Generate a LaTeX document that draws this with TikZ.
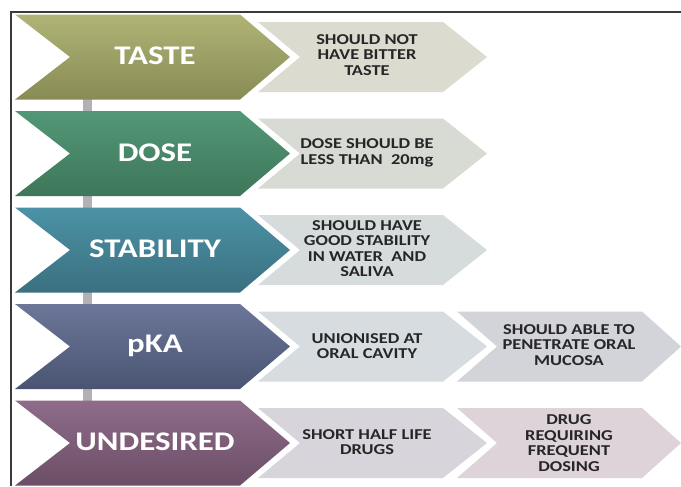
\documentclass[tikz,border=0pt]{standalone}
\usepackage{fontspec}
\usepackage{tikz}
\usetikzlibrary{backgrounds}
\newfontfamily\chevfont[FakeStretch=1.22]{Carlito}

\definecolor{framegray}{RGB}{58,58,58}
\definecolor{bargray}{RGB}{180,176,182}
\definecolor{notetext}{RGB}{38,38,38}

\tikzset{
  bigtext/.style={text=white,font=\chevfont\bfseries\fontsize{20.2}{22}\selectfont,inner sep=0.75pt},
  smalltext/.style={text=notetext,font=\chevfont\bfseries\fontsize{11.3}{11.6}\selectfont,align=center,inner sep=0.75pt},
  bar/.style={draw=bargray,line width=6.75pt}
}

\begin{document}
\begin{tikzpicture}[x=0.75pt,y=0.75pt,yscale=-1,xscale=1]
\useasboundingbox (0,0) rectangle (681,486);

%Bar between the big chevrons
\coordinate (tastebar) at (87,57);
\coordinate (dosebar) at (87,153.5);
\coordinate (stabbar) at (87,250);
\coordinate (pkabar) at (87,346.5);
\coordinate (undbar) at (87,443);
\draw[bar] (tastebar) -- (dosebar);
\draw[bar] (dosebar) -- (stabbar);
\draw[bar] (stabbar) -- (pkabar);
\draw[bar] (pkabar) -- (undbar);

%Shape: Chevron TASTE
\shade[top color={rgb,255:red,176;green,180;blue,118},bottom color={rgb,255:red,136;green,139;blue,84}]
  (15,14.5) -- (240,14.5) -- (290,57) -- (240,99.5) -- (15,99.5) -- (70,57) -- cycle ;
%Shape: Chevron DOSE
\shade[top color={rgb,255:red,82;green,152;blue,118},bottom color={rgb,255:red,62;green,118;blue,90}]
  (15,111) -- (240,111) -- (290,153.5) -- (240,196) -- (15,196) -- (70,153.5) -- cycle ;
%Shape: Chevron STABILITY
\shade[top color={rgb,255:red,76;green,146;blue,166},bottom color={rgb,255:red,58;green,112;blue,128}]
  (15,207.5) -- (240,207.5) -- (290,250) -- (240,292.5) -- (15,292.5) -- (70,250) -- cycle ;
%Shape: Chevron pKA
\shade[top color={rgb,255:red,108;green,118;blue,152},bottom color={rgb,255:red,74;green,84;blue,114}]
  (15,304) -- (240,304) -- (290,346.5) -- (240,389) -- (15,389) -- (70,346.5) -- cycle ;
%Shape: Chevron UNDESIRED
\shade[top color={rgb,255:red,142;green,108;blue,138},bottom color={rgb,255:red,108;green,78;blue,102}]
  (15,400.5) -- (240,400.5) -- (290,443) -- (240,485.5) -- (15,485.5) -- (70,443) -- cycle ;

%Shape: Note chevrons
\fill[fill={rgb,255:red,220;green,219;blue,207}]
  (258,22) -- (443,22) -- (487,57) -- (443,92) -- (258,92) -- (300,57) -- cycle ;
\fill[fill={rgb,255:red,216;green,219;blue,212}]
  (258,118.5) -- (443,118.5) -- (487,153.5) -- (443,188.5) -- (258,188.5) -- (300,153.5) -- cycle ;
\fill[fill={rgb,255:red,214;green,220;blue,220}]
  (258,215) -- (443,215) -- (487,250) -- (443,285) -- (258,285) -- (300,250) -- cycle ;
\fill[fill={rgb,255:red,214;green,220;blue,223}]
  (258,311.5) -- (443,311.5) -- (487,346.5) -- (443,381.5) -- (258,381.5) -- (300,346.5) -- cycle ;
\fill[fill={rgb,255:red,211;green,211;blue,218}]
  (457,311.5) -- (642,311.5) -- (681,346.5) -- (642,381.5) -- (457,381.5) -- (497,346.5) -- cycle ;
\fill[fill={rgb,255:red,215;green,212;blue,220}]
  (258,408) -- (443,408) -- (487,443) -- (443,478) -- (258,478) -- (300,443) -- cycle ;
\fill[fill={rgb,255:red,221;green,211;blue,216}]
  (457,408) -- (642,408) -- (681,443) -- (642,478) -- (457,478) -- (497,443) -- cycle ;

%Frame
\draw[framegray,line width=1.1pt] (11,486) -- (11,12) -- (681,12) ;

% Text Node
\node[bigtext] (taste) at (155,56) {TASTE};
% Text Node
\node[bigtext] (dose) at (155,152.5) {DOSE};
% Text Node
\node[bigtext] (stability) at (155,249) {STABILITY};
% Text Node
\node[bigtext] (pka) at (155,345.5) {pKA};
% Text Node
\node[bigtext] (undesired) at (155,442) {UNDESIRED};
% Text Node
\node[smalltext] (tastenote) at (367,55) {SHOULD NOT\\HAVE BITTER\\TASTE};
% Text Node
\node[smalltext] (dosenote) at (367,153) {DOSE SHOULD BE\\LESS THAN \ 20mg};
% Text Node
\node[smalltext] (stabnote) at (367,248.5) {SHOULD HAVE\\GOOD STABILITY\\IN WATER \ AND\\SALIVA};
% Text Node
\node[smalltext] (pkanote1) at (367,346) {UNIONISED AT\\ORAL CAVITY};
% Text Node
\node[smalltext] (pkanote2) at (569,345) {SHOULD ABLE TO\\PENETRATE ORAL\\MUCOSA};
% Text Node
\node[smalltext] (undnote1) at (367,442) {SHORT HALF LIFE\\DRUGS};
% Text Node
\node[smalltext] (undnote2) at (569,443) {DRUG\\REQUIRING\\FREQUENT\\DOSING};

\end{tikzpicture}
\end{document}
